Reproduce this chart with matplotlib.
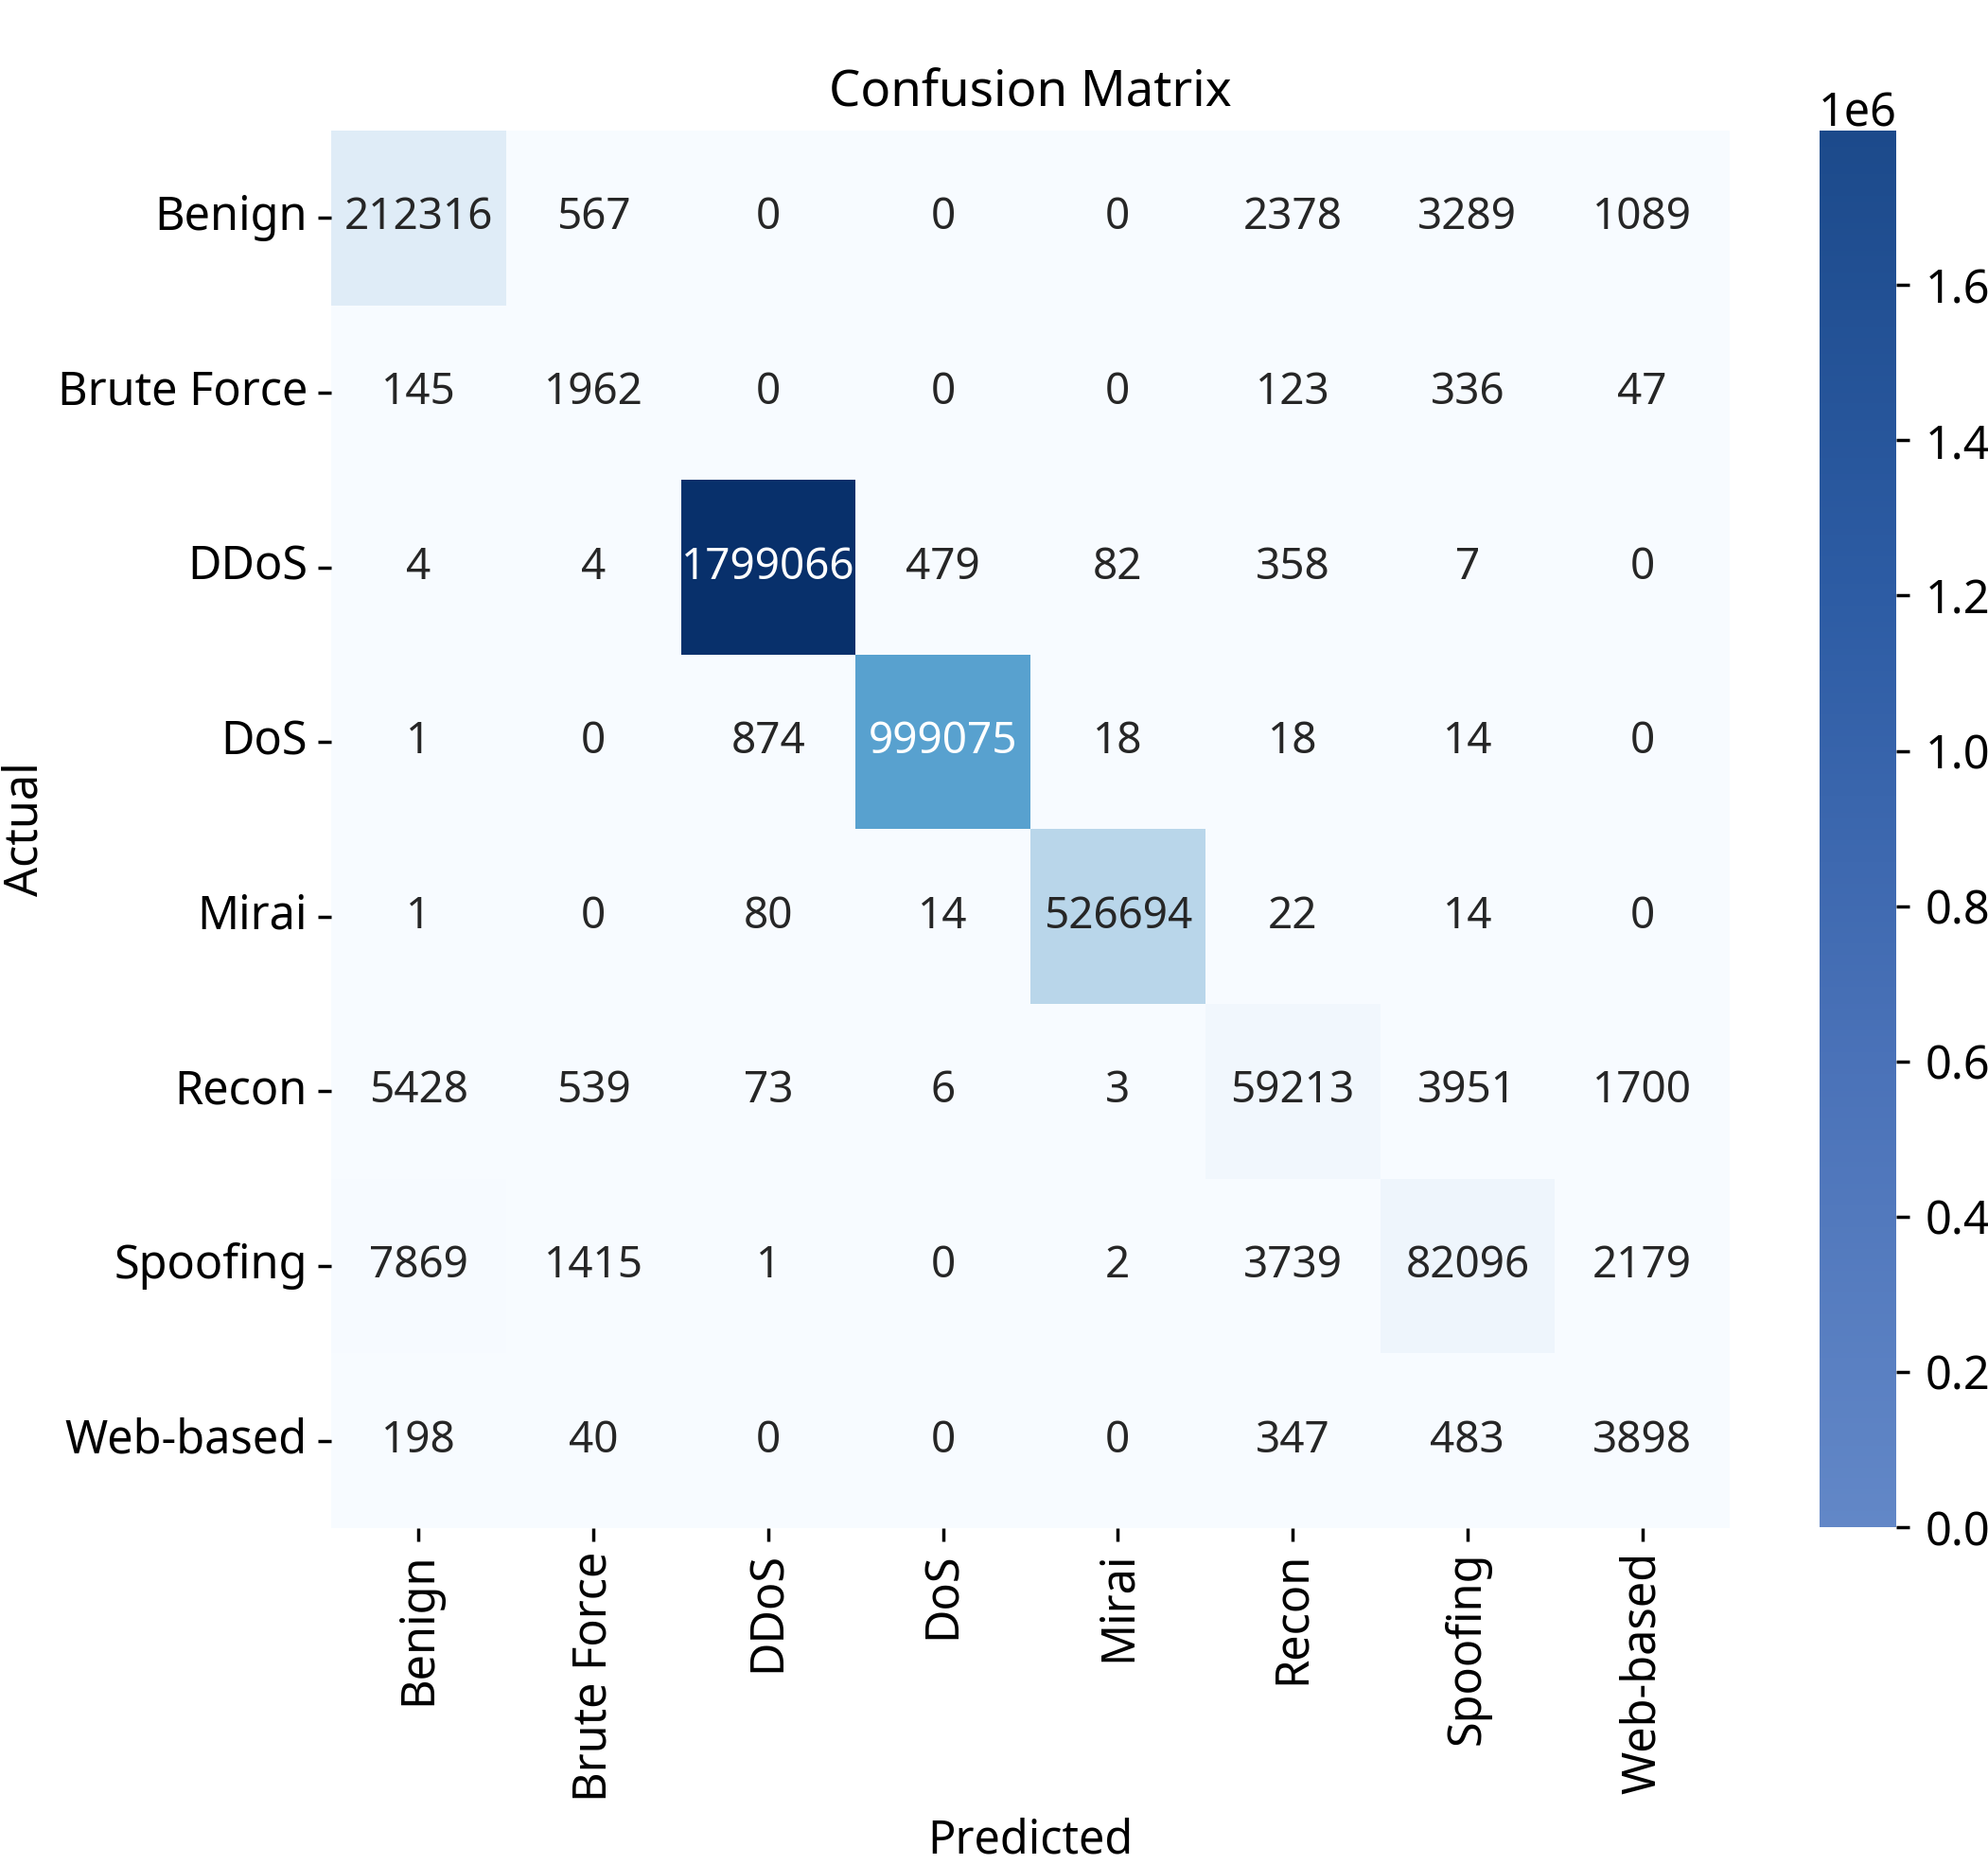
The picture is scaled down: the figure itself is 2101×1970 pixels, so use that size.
import numpy as np
import matplotlib.pyplot as plt
import seaborn as sns
from matplotlib.colors import LinearSegmentedColormap, Normalize
from matplotlib.cm import ScalarMappable

plt.rcParams['font.family'] = ['Noto Sans', 'DejaVu Sans']

labels = ["Benign", "Brute Force", "DDoS", "DoS", "Mirai", "Recon", "Spoofing", "Web-based"]

row_benign = [212316, 567, 0, 0, 0, 2378, 3289, 1089]
row_brute = [145, 1962, 0, 0, 0, 123, 336, 47]
row_ddos = [4, 4, 1799066, 479, 82, 358, 7, 0]
row_dos = [1, 0, 874, 999075, 18, 18, 14, 0]
row_mirai = [1, 0, 80, 14, 526694, 22, 14, 0]
row_recon = [5428, 539, 73, 6, 3, 59213, 3951, 1700]
row_spoof = [7869, 1415, 1, 0, 2, 3739, 82096, 2179]
row_web = [198, 40, 0, 0, 0, 347, 483, 3898]

cm = np.array([row_benign, row_brute, row_ddos, row_dos,
               row_mirai, row_recon, row_spoof, row_web])

FS = 35

fig = plt.figure(figsize=(21.01, 19.70), dpi=100)
ax = fig.add_axes([350/2101, 1 - 1615/1970, 1478/2101, 1477/1970])
cax = fig.add_axes([1923/2101, 1 - 1614/1970, 81/2101, 1476/1970])

sns.heatmap(cm, annot=True, fmt='d', cmap='Blues', cbar=False,
            xticklabels=labels, yticklabels=labels, ax=ax,
            annot_kws={'fontsize': 33})
ax.set_aspect('auto')

# colorbar as drawn in the reference (own blue ramp)
cb_cmap = LinearSegmentedColormap.from_list('cb', ['#6287c7', '#4a72b8', '#2d5ca4', '#1c4a8b'])
sm = ScalarMappable(norm=Normalize(vmin=0, vmax=cm.max()), cmap=cb_cmap)
cb = fig.colorbar(sm, cax=cax)
cb.outline.set_visible(False)
cb.ax.tick_params(labelsize=FS, length=10, width=2.5, pad=12)
cb.ax.yaxis.get_offset_text().set_fontsize(FS)
cb.ax.yaxis.get_offset_text().set_x(0.5)
cb.ax.yaxis.get_offset_text().set_horizontalalignment('center')

ax.set_title("Confusion Matrix", fontsize=38, pad=18)
ax.set_xlabel("Predicted", fontsize=FS)
ax.set_ylabel("Actual", fontsize=FS)
ax.xaxis.set_label_coords(0.5, -0.207)
ax.yaxis.set_label_coords(-0.202, 0.5)
ax.tick_params(axis='both', labelsize=FS, length=10, width=2.5, pad=8)
plt.setp(ax.get_xticklabels(), rotation=90)
plt.setp(ax.get_yticklabels(), rotation=0)

fig.savefig("out.png", dpi=100)
